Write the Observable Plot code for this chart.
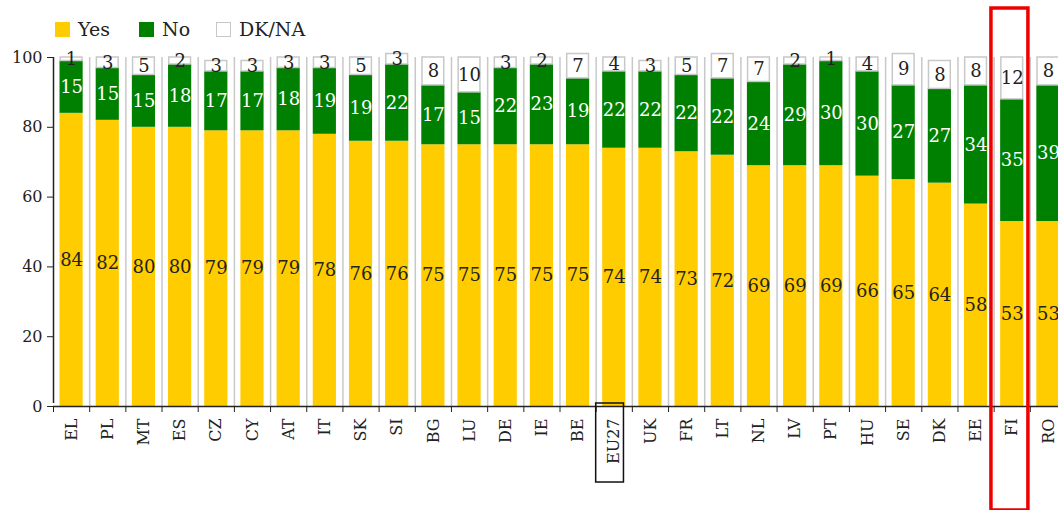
<!DOCTYPE html>
<html><head><meta charset="utf-8">
<script src="https://cdn.jsdelivr.net/npm/d3@7"></script>
<script src="https://cdn.jsdelivr.net/npm/@observablehq/plot@0.6"></script>
<style>
body{margin:0;background:#fff;overflow:hidden;}
#wrap{position:relative;width:1058px;height:510px;overflow:hidden;}
#wrap svg{display:block;}
#legend{position:absolute;left:0;top:0;width:400px;height:50px;font-family:"DejaVu Serif";font-size:19px;color:#222;z-index:2;}
.item{position:absolute;top:19px;display:flex;align-items:center;white-space:nowrap;line-height:20px;}
.sw{width:15px;height:15px;margin-right:8px;box-sizing:border-box;}
</style></head><body>
<div id="wrap"><div id="legend"></div></div>
<script>
const countries = ["EL","PL","MT","ES","CZ","CY","AT","IT","SK","SI","BG","LU","DE","IE","BE","EU27","UK","FR","LT","NL","LV","PT","HU","SE","DK","EE","FI","RO"];
const yes  = [84,82,80,80,79,79,79,78,76,76,75,75,75,75,75,74,74,73,72,69,69,69,66,65,64,58,53,53];
const no   = [15,15,15,18,17,17,18,19,19,22,17,15,22,23,19,22,22,22,22,24,29,30,30,27,27,34,35,39];
const dkna = [1,3,5,2,3,3,3,3,5,3,8,10,3,2,7,4,3,5,7,7,2,1,4,9,8,8,12,8];
const answers = ["Yes","No","DK/NA"];
const answerColors = ["#ffcc00","#008000","#ffffff"];
const yTicks = [0,20,40,60,80,100];
const highlightCountry = "FI";
const boxedCountry = "EU27";

const rows = countries.flatMap((c, i) => {
  const v = [yes[i], no[i], dkna[i]];
  let acc = 0;
  return answers.map((a, j) => {
    const r = {country: c, answer: a, value: v[j], y1: acc, y2: acc + v[j]};
    acc += v[j];
    return r;
  });
});
const solidRows = rows.filter(d => d.answer !== "DK/NA");
const dkRows = rows.filter(d => d.answer === "DK/NA");

// legend (HTML, over the svg)
const legend = document.getElementById("legend");
const legendLefts = [55, 139, 216];
answers.forEach((a, i) => {
  const it = document.createElement("div");
  it.className = "item";
  it.style.left = legendLefts[i] + "px";
  const sw = document.createElement("div");
  sw.className = "sw";
  sw.style.background = answerColors[i];
  if (i === 2) sw.style.border = "1.5px solid #c8c8c8";
  const t = document.createElement("span");
  t.textContent = a;
  it.appendChild(sw); it.appendChild(t);
  legend.appendChild(it);
});

const xRange = [53, 1066];
const band = (xRange[1] - xRange[0]) / countries.length;

const chart = Plot.plot({
  width: 1058, height: 510,
  marginTop: 57, marginBottom: 104, marginLeft: 53, marginRight: 0,
  style: {fontFamily: "DejaVu Serif", fontSize: "16px", color: "#222", background: "transparent", overflow: "hidden"},
  x: {domain: countries, range: xRange, padding: 0, round: false, label: null},
  y: {domain: [0, 100], label: null},
  color: {domain: answers, range: answerColors},
  marks: [
    Plot.ruleX(countries.slice(1), {x: d => d, y1: 0, y2: 100, dx: -band / 2, stroke: "#c8c8c8", strokeWidth: 1.5}),
    Plot.barY(solidRows, {x: "country", y1: "y1", y2: "y2", fill: "answer", insetLeft: 6.5, insetRight: 6.5}),
    Plot.barY(dkRows, {x: "country", y1: "y1", y2: "y2", fill: "white", stroke: "#c8c8c8", strokeWidth: 1.5, insetLeft: 7.2, insetRight: 7.2}),
    Plot.text(rows.filter(d => d.answer === "Yes"), {x: "country", y: d => (d.y1 + d.y2) / 2, text: "value", fill: "#222", fontSize: 18}),
    Plot.text(rows.filter(d => d.answer === "No"), {x: "country", y: d => (d.y1 + d.y2) / 2, text: "value", fill: "white", fontSize: 18}),
    Plot.text(dkRows, {x: "country", y: d => (d.y1 + d.y2) / 2, text: "value", fill: "#222", fontSize: 18}),
    Plot.axisY({ticks: yTicks, tickSize: 6, tickPadding: 5, fontSize: 16, label: null}),
    Plot.axisX({tickSize: 0, tickRotate: -90, tickPadding: 12, fontSize: 16, label: null}),
    Plot.axisX({tickSize: 6, tickFormat: () => "", dx: -band / 2, label: null}),
    Plot.ruleX([countries[0]], {x: d => d, y1: 0, y2: 100, dx: -band / 2, insetTop: -3, stroke: "#222", strokeWidth: 1.5}),
    Plot.ruleY([0], {stroke: "#222", strokeWidth: 1.5}),
    Plot.barY([boxedCountry], {x: d => d, y1: 0, y2: 0, fill: "none", stroke: "#111", strokeWidth: 1.5, insetLeft: 0, insetRight: 8.4, insetTop: -3, insetBottom: -76}),
    Plot.barY([highlightCountry], {x: d => d, y1: 0, y2: 100, fill: "none", stroke: "#ee0000", strokeWidth: 3.5, insetLeft: -2.7, insetRight: 1.9, insetTop: -49, insetBottom: -104})
  ]
});
document.getElementById("wrap").appendChild(chart);
</script>
</body></html>
